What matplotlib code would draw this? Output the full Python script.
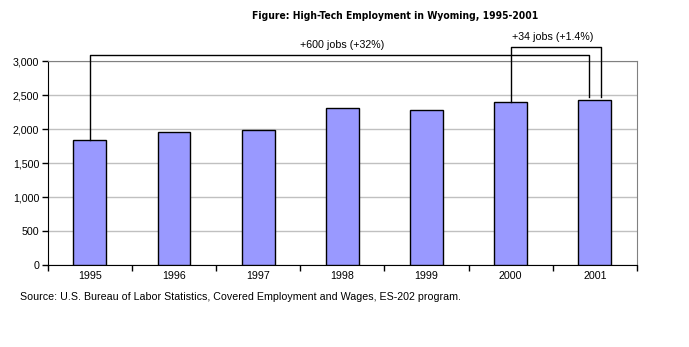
import matplotlib
matplotlib.use("Agg")
import matplotlib.pyplot as plt
from matplotlib import font_manager
from matplotlib.ticker import FuncFormatter, FixedLocator

years = ["1995", "1996", "1997", "1998", "1999", "2000", "2001"]
jobs = [1838, 1956, 1985, 2309, 2279, 2396, 2430]

change_long = "+600 jobs (+32%)"
change_short = "+34 jobs (+1.4%)"

plt.rcParams["font.family"] = ["Liberation Sans", "DejaVu Sans"]

# narrow bold face for the heading, if one is available
names = {f.name for f in font_manager.fontManager.ttflist}
if "Liberation Sans Narrow" in names:
    title_font = dict(family="Liberation Sans Narrow", fontsize=10)
else:
    title_font = dict(family="DejaVu Sans", fontstretch="condensed", fontsize=7.4)

fig = plt.figure(figsize=(6.89, 3.47), dpi=100)
ax = fig.add_axes([0.0692, 0.2354, 0.8553, 0.5879])

x = list(range(len(years)))
ax.bar(x, jobs, width=0.39, color="#9999FF", edgecolor="black", linewidth=1.0, zorder=3)

ax.set_xlim(-0.5, len(years) - 0.5)
ax.set_ylim(0, 3000)
ax.yaxis.set_major_locator(FixedLocator(range(0, 3001, 500)))
ax.yaxis.set_major_formatter(FuncFormatter(lambda v, p: f"{int(v):,}"))
ax.grid(axis="y", color="#C0C0C0", linewidth=1.0, zorder=0)

# category ticks sit between the bars, labels centred under them
ax.set_xticks([i - 0.5 for i in range(len(years) + 1)])
ax.set_xticklabels([])
ax.set_xticks(x, minor=True)
ax.set_xticklabels(years, minor=True)
ax.tick_params(axis="x", which="minor", length=0, pad=4, labelsize=7.7)
ax.tick_params(axis="x", which="major", length=4, width=1, direction="out")
ax.tick_params(axis="y", length=4, width=1, direction="out", labelsize=7.7, pad=2)

for side in ["top", "right"]:
    ax.spines[side].set_color("#808080")
for side in ["left", "bottom"]:
    ax.spines[side].set_color("black")

# bracket from 1995 to 2001
top_long = 3093
ax.plot([0, 0, 5.93, 5.93], [jobs[0], top_long, top_long, 2471],
        color="black", linewidth=1.0, clip_on=False, zorder=4)
ax.text(3.0, 3240, change_long, ha="center", va="center", fontsize=7.7)

# bracket from 2000 to 2001
top_short = 3215
ax.plot([5, 5, 6.07, 6.07], [jobs[5], top_short, top_short, 2471],
        color="black", linewidth=1.0, clip_on=False, zorder=4)
ax.text(5.5, 3362, change_short, ha="center", va="center", fontsize=7.7)

fig.text(0.573, 0.953, "Figure: High-Tech Employment in Wyoming, 1995-2001",
         ha="center", va="center", fontweight="bold", **title_font)
fig.text(0.029, 0.144,
         "Source: U.S. Bureau of Labor Statistics, Covered Employment and Wages, ES-202 program.",
         ha="left", va="center", fontsize=7.7)

fig.savefig("out.png", dpi=100)
